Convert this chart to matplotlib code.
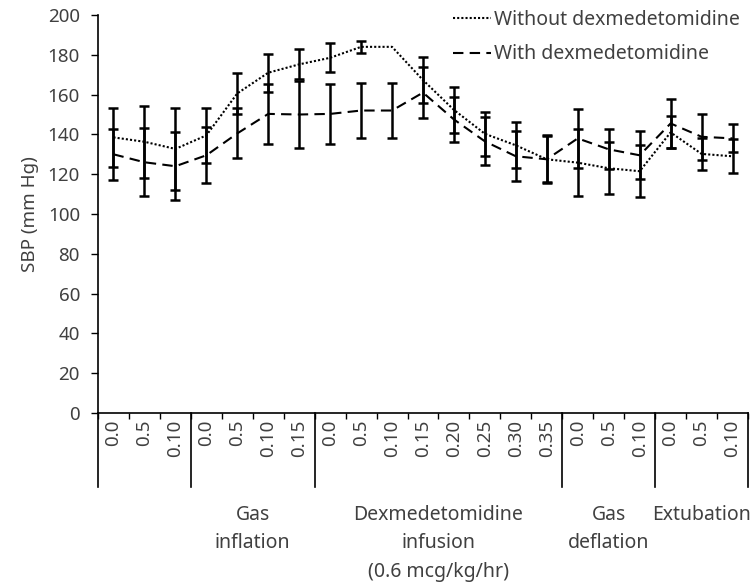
import numpy as np
import matplotlib
matplotlib.use("Agg")
import matplotlib.pyplot as plt
import matplotlib.transforms as mtransforms
from matplotlib.lines import Line2D

plt.rcParams['font.family'] = ['Noto Sans', 'DejaVu Sans']

# tick labels (time points) per group
tick_labels = ["0.0", "0.5", "0.10",
               "0.0", "0.5", "0.10", "0.15",
               "0.0", "0.5", "0.10", "0.15", "0.20", "0.25", "0.30", "0.35",
               "0.0", "0.5", "0.10",
               "0.0", "0.5", "0.10"]
group_names = ["", "Gas\ninflation", "Dexmedetomidine\ninfusion\n(0.6 mcg/kg/hr)",
               "Gas\ndeflation", "Extubation"]
group_sizes = [3, 4, 8, 3, 3]

# SBP means and error (mm Hg)
without_dex = [138.5, 136.3, 132.7, 139.5, 160.6, 171.0, 175.2, 178.5, 184.0, 184.0, 167.3,
               152.3, 140.3, 134.5, 127.5, 125.8, 123.0, 121.5, 141.0, 130.2, 129.0]
without_err = [14.8, 18.0, 20.5, 13.7, 10.5, 9.5, 7.5, 7.3, 3.0, np.nan, 11.6,
               11.4, 11.0, 11.5, 11.5, 16.7, 13.0, 13.0, 8.0, 8.0, 8.5]
with_dex = [130.0, 126.0, 124.0, 129.5, 140.5, 150.3, 150.0, 150.3, 152.0, 152.0, 161.0,
            147.5, 136.5, 129.0, 127.5, 138.0, 132.5, 129.5, 145.5, 138.8, 138.0]
with_err = [12.7, 17.0, 17.0, 14.0, 12.6, 15.0, 17.0, 15.0, 13.7, 13.7, 12.8,
            11.2, 12.0, 12.5, 12.0, 15.0, 10.0, 12.0, 12.5, 11.5, 7.0]

txt_color = '#404040'
fs = 13.5

fig = plt.figure(figsize=(7.55, 5.82), dpi=100)
ax = fig.add_axes([98/755, 1-413/582, 650/755, 398/582])

x = np.arange(len(tick_labels))

# error bars
ax.errorbar(x, without_dex, yerr=without_err, fmt='none', ecolor='black',
            elinewidth=1.8, capsize=3.8, capthick=1.8, zorder=2)
ax.errorbar(x, with_dex, yerr=with_err, fmt='none', ecolor='black',
            elinewidth=1.8, capsize=3.8, capthick=1.8, zorder=2)

# lines
ax.plot(x, without_dex, color='black', lw=1.5, linestyle=(0, (1, 1)), zorder=3)
ax.plot(x, with_dex, color='black', lw=1.5, linestyle=(0, (5, 3)), zorder=3)

ax.set_xlim(-0.5, len(x) - 0.5)
ax.set_ylim(0, 200)
ax.set_yticks(np.arange(0, 201, 20))
ax.tick_params(axis='y', direction='out', length=5, width=1, pad=8, colors='black',
               labelcolor=txt_color, labelsize=fs)

ax.set_xticks(x)
ax.set_xticklabels(tick_labels, rotation=90, fontsize=fs, color=txt_color)
ax.tick_params(axis='x', which='major', length=0, pad=5)
ax.set_xticks(np.arange(-0.5, len(x), 1), minor=True)
ax.tick_params(axis='x', which='minor', direction='out', length=4, width=1, colors='black')

for s in ['top', 'right']:
    ax.spines[s].set_visible(False)
for s in ['left', 'bottom']:
    ax.spines[s].set_color('black')
    ax.spines[s].set_linewidth(1.2)

ax.set_ylabel('SBP (mm Hg)', fontsize=13.5, color=txt_color, labelpad=6)

# group separators and names
trans = mtransforms.blended_transform_factory(ax.transData, ax.transAxes)
bounds = np.concatenate([[0], np.cumsum(group_sizes)]) - 0.5
for b in bounds:
    ax.plot([b, b], [0, -74/398], color='black', lw=1.2, transform=trans, clip_on=False)
for i, name in enumerate(group_names):
    if name:
        cx = (bounds[i] + bounds[i + 1]) / 2
        ax.text(cx, -92/398, name, transform=trans, ha='center', va='top',
                fontsize=14, color=txt_color, linespacing=1.55)

handles = [Line2D([], [], color='black', lw=1.5, linestyle=(0, (1, 1))),
           Line2D([], [], color='black', lw=1.5, linestyle=(0, (5, 3)))]
ax.legend(handles, ['Without dexmedetomidine', 'With dexmedetomidine'],
          loc='upper right', bbox_to_anchor=(1.015, 1.057), frameon=False,
          fontsize=14, labelcolor=txt_color, handlelength=2.0,
          handletextpad=0.15, labelspacing=0.75)

fig.savefig('out.png', dpi=100)
